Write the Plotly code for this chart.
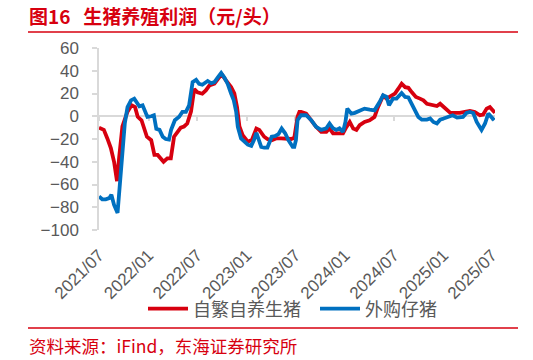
import plotly.graph_objects as go

# ---------------- data ----------------
red_dates = [
    "2021-07-01", "2021-07-19", "2021-08-01", "2021-08-14", "2021-08-26", "2021-09-06", "2021-09-14",
    "2021-09-26", "2021-10-15", "2021-10-30", "2021-11-12", "2021-11-22", "2021-12-06", "2021-12-16",
    "2021-12-26", "2022-01-11", "2022-01-23", "2022-02-04", "2022-02-14", "2022-02-26", "2022-03-12",
    "2022-03-25", "2022-04-06", "2022-04-18", "2022-05-01", "2022-05-13", "2022-05-25", "2022-06-08",
    "2022-06-20", "2022-07-02", "2022-07-20", "2022-08-02", "2022-08-15", "2022-09-03", "2022-09-21",
    "2022-09-30", "2022-10-16", "2022-11-04", "2022-11-16", "2022-11-26", "2022-12-05", "2022-12-17",
    "2023-01-05", "2023-01-20", "2023-02-06", "2023-02-17", "2023-03-07", "2023-03-19", "2023-04-04",
    "2023-04-20", "2023-05-09", "2023-05-27", "2023-06-15", "2023-06-27", "2023-07-09", "2023-07-16",
    "2023-07-22", "2023-08-10", "2023-08-29", "2023-09-16", "2023-10-05", "2023-10-24", "2023-11-05",
    "2023-11-18", "2023-12-06", "2023-12-25", "2024-01-07", "2024-01-19", "2024-02-01", "2024-02-13",
    "2024-02-25", "2024-03-14", "2024-04-02", "2024-04-20", "2024-05-03", "2024-05-22", "2024-06-04",
    "2024-06-16", "2024-07-05", "2024-07-17", "2024-07-30", "2024-08-12", "2024-08-24", "2024-09-06",
    "2024-09-21", "2024-10-06", "2024-10-19", "2024-11-01", "2024-11-19", "2024-12-08", "2024-12-20",
    "2025-01-02", "2025-01-15", "2025-01-27", "2025-02-14", "2025-03-03", "2025-03-22", "2025-04-10",
    "2025-04-28", "2025-05-17", "2025-05-29", "2025-06-11", "2025-06-23", "2025-07-06", "2025-07-12",
]
red_vals = [
    -10, -12, -19.5, -28, -40, -57, -36,
    -9, 4, 9.6, 8, -0.5, -3.5, -12,
    -18, -21, -34, -34, -37, -40, -37,
    -37, -18, -14, -10, -9, -6.4, 4,
    24, 21, 19.8, 22.7, 27, 28.6, 35,
    37, 31.5, 25.6, 20, 8, -9, -16.6,
    -22.4, -21, -10.8, -12, -18, -20, -21,
    -19.5, -19.5, -19.5, -20, -19, -0.5, 3.8,
    3.8, 2.3, -3.5, -9.3, -13.7, -13.7, -10.6,
    -15, -15, -15, -9.3, -5, -10.8, -12,
    -7.9, -5, -3.5, -0.6, 8, 18, 15.5,
    17, 20, 24, 28.6, 25.6, 25, 21,
    17, 15.5, 14, 11, 9.6, 9, 11,
    8, 5.2, 2.9, 2.9, 2.9, 3.8, 4.6,
    3.8, 0.9, 1.5, 6.7, 8, 4.6, 3,
]

blue_dates = [
    "2021-07-01", "2021-07-13", "2021-07-26", "2021-08-08", "2021-08-16", "2021-08-26", "2021-09-08",
    "2021-09-18", "2021-09-26", "2021-10-05", "2021-10-15", "2021-10-28", "2021-11-09", "2021-11-19",
    "2021-11-28", "2021-12-10", "2021-12-19", "2021-12-28", "2022-01-11", "2022-01-21", "2022-01-30",
    "2022-02-11", "2022-02-23", "2022-03-06", "2022-03-18", "2022-03-26", "2022-04-09", "2022-04-25",
    "2022-05-07", "2022-05-20", "2022-06-01", "2022-06-14", "2022-06-27", "2022-07-08", "2022-07-20",
    "2022-08-09", "2022-08-22", "2022-09-03", "2022-09-15", "2022-09-28", "2022-10-10", "2022-10-22",
    "2022-11-04", "2022-11-14", "2022-11-23", "2022-11-29", "2022-12-11", "2022-12-23", "2023-01-05",
    "2023-01-18", "2023-01-28", "2023-02-06", "2023-02-14", "2023-02-24", "2023-03-07", "2023-03-19",
    "2023-04-04", "2023-04-16", "2023-04-29", "2023-05-11", "2023-05-24", "2023-06-05", "2023-06-21",
    "2023-06-27", "2023-07-03", "2023-07-09", "2023-07-22", "2023-08-10", "2023-08-29", "2023-09-16",
    "2023-10-05", "2023-10-24", "2023-11-05", "2023-11-18", "2023-11-30", "2023-12-12", "2023-12-25",
    "2024-01-03", "2024-01-10", "2024-01-25", "2024-02-07", "2024-02-25", "2024-03-14", "2024-04-02",
    "2024-04-20", "2024-05-09", "2024-05-22", "2024-06-04", "2024-06-13", "2024-06-28", "2024-07-11",
    "2024-07-30", "2024-08-12", "2024-08-24", "2024-09-06", "2024-09-18", "2024-09-30", "2024-10-13",
    "2024-11-01", "2024-11-13", "2024-11-25", "2024-12-08", "2024-12-20", "2025-01-02", "2025-01-21",
    "2025-02-05", "2025-02-21", "2025-03-03", "2025-03-15", "2025-03-28", "2025-04-10", "2025-04-22",
    "2025-05-05", "2025-05-23", "2025-06-05", "2025-06-17", "2025-06-30", "2025-07-09",
]
blue_vals = [
    -70.5, -73, -73, -72, -69, -78, -85,
    -56, -27, -6, 8, 14, 15.5, 11,
    8.7, 9.6, 3.8, -0.6, 0, 0.9, -11,
    -12, -18, -20, -20.5, -12, -3.5, -0.5,
    3.8, 3.8, 9.6, 30, 32, 28.5, 27.7,
    31, 29, 30, 34, 38, 34, 28.6,
    20, 14, 3.8, -9.3, -19.5, -22.4, -25,
    -26, -21, -14.5, -19.5, -27, -27.5, -27.5,
    -18, -17.5, -15.7, -10.8, -15, -21, -27,
    -27, -21, -3.5, 0.9, 0.9, -3.5, -9.3,
    -12, -10.6, -6.4, -10.6, -12, -10.6, -13.7,
    -5, 6.7, 2.3, 3, 5.2, 6.7, 5.8,
    5.2, 12.5, 18.4, 17, 9.6, 15.5, 15.5,
    20.4, 17, 16.5, 11, 5.2, -0.6, -3,
    -3, -2, -5, -6.4, -3, -2, -0.6,
    0.9, -1.2, -1.2, -0.6, 2.9, 3.8, 2.9,
    -5, -12, -6.4, 2.3, -0.6, -3.5,
]

y_ticks = [-100, -80, -60, -40, -20, 0, 20, 40, 60]
x_range = ["2021-07-01", "2025-07-12"]

title_text = "图16\u00a0\u00a0\u00a0生猪养殖利润（元/头）"
source_text = "资料来源：iFind，东海证券研究所"
red_name = "自繁自养生猪"
blue_name = "外购仔猪"

# ---------------- layout helpers ----------------
W, H = 533, 360
L, R, T, B = 99, 38, 48, 130
pw, ph = W - L - R, H - T - B


def px(x):
    return (x - L) / pw


def py(y):
    return (H - B - y) / ph


RED = "#D7000F"
BLUE = "#0070C0"
GRAY = "#595959"
AXIS = "#D9D9D9"
CJK = "Noto Sans CJK SC"
NUM = "Liberation Sans, Arial, sans-serif"

fig = go.Figure()
fig.add_trace(go.Scatter(x=red_dates, y=red_vals, name=red_name, mode="lines",
                         line=dict(color=RED, width=3.8)))
fig.add_trace(go.Scatter(x=blue_dates, y=blue_vals, name=blue_name, mode="lines",
                         line=dict(color=BLUE, width=3.8)))
# helper trace so the zero-line axis (x2) is drawn
fig.add_trace(go.Scatter(x=x_range, y=[None, None], xaxis="x2", yaxis="y",
                         showlegend=False, hoverinfo="skip", mode="lines"))

zero_pos = (0 - y_ticks[0]) / (y_ticks[-1] - y_ticks[0])

fig.update_layout(
    width=W, height=H,
    margin=dict(l=L, r=R, t=T, b=B),
    paper_bgcolor="white", plot_bgcolor="white",
    showlegend=True,
    legend=dict(orientation="h", x=px(143), y=py(309), xanchor="left", yanchor="middle",
                font=dict(family=CJK, size=18, color=GRAY), bgcolor="rgba(0,0,0,0)",
                itemwidth=40, tracegroupgap=0, entrywidth=117, entrywidthmode="pixels"),
    xaxis=dict(type="date", range=x_range, tickformat="%Y/%m", dtick="M6", tick0="2021-07-01",
               tickangle=-45, showgrid=False, showline=False, zeroline=False, ticks="",
               ticklabelstandoff=11,
               tickfont=dict(family=NUM, size=17, color=GRAY)),
    xaxis2=dict(type="date", overlaying="x", matches="x", anchor="free", position=zero_pos,
                showline=True, linecolor=AXIS, linewidth=1.5, ticks="outside", ticklen=4,
                tickcolor=AXIS, tickwidth=1.5, dtick="M6", tick0="2021-07-01",
                showticklabels=False, showgrid=False, zeroline=False, layer="below traces"),
    yaxis=dict(range=[y_ticks[0], y_ticks[-1]], tickvals=y_ticks, showgrid=False, zeroline=False,
               showline=True, linecolor=AXIS, linewidth=1.5, ticks="outside", ticklen=5,
               tickcolor=AXIS, tickwidth=1.5, layer="below traces", ticklabelstandoff=10,
               tickfont=dict(family=NUM, size=17, color=GRAY)),
    shapes=[
        dict(type="line", xref="paper", yref="paper", x0=px(28), x1=px(518), y0=py(32), y1=py(32),
             line=dict(color=RED, width=1.5)),
        dict(type="line", xref="paper", yref="paper", x0=px(28), x1=px(518), y0=py(328), y1=py(328),
             line=dict(color=RED, width=1.5)),
    ],
    annotations=[
        dict(text="<b>" + title_text + "</b>", xref="paper", yref="paper", x=px(27), y=py(16),
             xanchor="left", yanchor="middle", showarrow=False,
             font=dict(family=CJK, size=19, color=RED)),
        dict(text=source_text, xref="paper", yref="paper", x=px(27), y=py(345),
             xanchor="left", yanchor="middle", showarrow=False,
             font=dict(family=CJK, size=17.5, color=RED)),
    ],
)

fig.write_html("out.html", config={"displayModeBar": False},
               post_script="document.body.style.margin='0';")
